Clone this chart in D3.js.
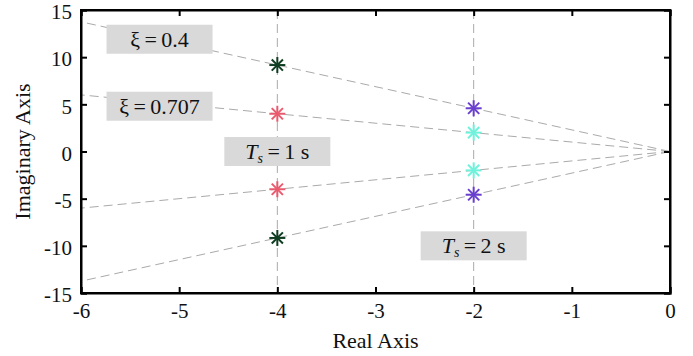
<!DOCTYPE html>
<html>
<head>
<meta charset="utf-8">
<script src="https://cdn.jsdelivr.net/npm/d3@7/dist/d3.min.js"></script>
<style>
  body { margin: 0; background: #fff; }
  text { font-family: "Liberation Serif", "DejaVu Serif", serif; }
</style>
</head>
<body>
<svg id="chart" width="693" height="356"></svg>
<script>
var xTicks = [-6, -5, -4, -3, -2, -1, 0];
var yTicks = [-15, -10, -5, 0, 5, 10, 15];

// damping ratios and settling times
var zetas = [0.4, 0.707];
var settleTimes = [1, 2];

// pole locations (real, imag) and their colours
var poleRe = [-4, -4, -4, -4, -2, -2, -2, -2];
var poleIm = [9.165, -9.165, 4, -4, 4.583, -4.583, 2, -2];
var poleColor = ["#0f3d22", "#0f3d22", "#ea5a6e", "#ea5a6e",
                 "#6a3fcf", "#6a3fcf", "#6ff2dc", "#6ff2dc"];

// label boxes anchor (data coords)
var labelX = [-5.2, -5.2, -4, -2];
var labelY = [11.9, 4.8, 0, -10];

var svg = d3.select("#chart");
var m = { left: 81, right: 23, top: 10, bottom: 63 };
var W = 693, H = 356;
var fs = 22, tfs = 21;

var x = d3.scaleLinear().domain([-6, 0]).range([m.left, W - m.right]);
var y = d3.scaleLinear().domain([-15, 15]).range([H - m.bottom, m.top]);

var g = svg.append("g");

// damping ratio lines from origin
zetas.forEach(function(z) {
  var slope = Math.sqrt(1 - z * z) / z;
  [1, -1].forEach(function(s) {
    g.append("line")
      .attr("x1", x(0)).attr("y1", y(0))
      .attr("x2", x(-6)).attr("y2", y(s * slope * 6))
      .attr("stroke", "#aaa").attr("stroke-width", 1)
      .attr("stroke-dasharray", "9,5");
  });
});

// settling time lines
settleTimes.forEach(function(t) {
  g.append("line")
    .attr("x1", x(-4 / t)).attr("y1", y(15))
    .attr("x2", x(-4 / t)).attr("y2", y(-15))
    .attr("stroke", "#aaa").attr("stroke-width", 1)
    .attr("stroke-dasharray", "9,5");
});

// label boxes
var labels = [
  { t: "ξ = 0.4" },
  { t: "ξ = 0.707" },
  { ts: "1" },
  { ts: "2" }
];
labels.forEach(function(d, i) {
  var cx = x(labelX[i]), cy = y(labelY[i]);
  g.append("rect")
    .attr("x", cx - 53).attr("y", cy - 14.5)
    .attr("width", 106).attr("height", 29)
    .attr("fill", "#d9d9d9");
  var txt = g.append("text")
    .attr("x", cx).attr("y", cy + 7.5)
    .attr("text-anchor", "middle")
    .attr("font-size", fs).attr("fill", "#111");
  if (d.t) {
    txt.text(d.t.replace(" = ", "\u2009=\u2009"));
  } else {
    txt.append("tspan").attr("font-style", "italic").text("T");
    txt.append("tspan").attr("font-style", "italic").attr("font-size", 14).attr("dy", 4).text("s");
    txt.append("tspan").attr("dy", -4).text("\u2009=\u2009" + d.ts + " s");
  }
});

// pole markers (asterisks)
var r = 8;
var poles = g.selectAll("g.pole").data(poleRe).enter().append("g")
  .attr("class", "pole")
  .attr("transform", function(d, i) { return "translate(" + x(d) + "," + y(poleIm[i]) + ")"; });
[[0, -r, 0, r], [-r, 0, r, 0], [-r * 0.7, -r * 0.7, r * 0.7, r * 0.7], [-r * 0.7, r * 0.7, r * 0.7, -r * 0.7]]
  .forEach(function(l) {
    poles.append("line")
      .attr("x1", l[0]).attr("y1", l[1]).attr("x2", l[2]).attr("y2", l[3])
      .attr("stroke", function(d, i) { return poleColor[i]; })
      .attr("stroke-width", 2);
  });

// axes with inward ticks on all sides
function styleText(a) {
  a.selectAll("text").attr("font-size", tfs).attr("fill", "#111");
}
svg.append("g").attr("transform", "translate(0," + y(-15) + ")")
  .call(d3.axisBottom(x).tickValues(xTicks).tickSize(-6).tickPadding(10).tickFormat(String))
  .call(styleText);
svg.append("g").attr("transform", "translate(0," + y(15) + ")")
  .call(d3.axisTop(x).tickValues(xTicks).tickSize(-6).tickFormat(""));
svg.append("g").attr("transform", "translate(" + x(-6) + ",0)")
  .call(d3.axisLeft(y).tickValues(yTicks).tickSize(-6).tickPadding(9).tickFormat(String))
  .call(styleText)
  .call(function(a) { a.selectAll("text").attr("dy", "0.42em"); });
svg.append("g").attr("transform", "translate(" + x(0) + ",0)")
  .call(d3.axisRight(y).tickValues(yTicks).tickSize(-6).tickFormat(""));

svg.selectAll(".domain").attr("stroke", "#000").attr("stroke-width", 2);
svg.selectAll(".tick line").attr("stroke", "#000").attr("stroke-width", 2);

// box around
svg.append("rect")
  .attr("x", x(-6)).attr("y", y(15))
  .attr("width", x(0) - x(-6)).attr("height", y(-15) - y(15))
  .attr("fill", "none").attr("stroke", "#000").attr("stroke-width", 2);

svg.append("text")
  .attr("x", (x(-6) + x(0)) / 2).attr("y", 348)
  .attr("text-anchor", "middle").attr("font-size", fs).attr("fill", "#111")
  .text("Real Axis");
svg.append("text")
  .attr("transform", "translate(30," + y(0) + ") rotate(-90)")
  .attr("text-anchor", "middle").attr("font-size", fs).attr("fill", "#111")
  .text("Imaginary Axis");
</script>
</body>
</html>
